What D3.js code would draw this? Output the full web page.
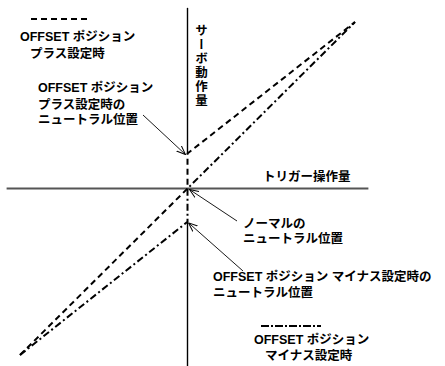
<!DOCTYPE html>
<html><head><meta charset="utf-8">
<script src="https://cdn.jsdelivr.net/npm/d3@7"></script>
<style>html,body{margin:0;padding:0;background:#fff;}svg{display:block;}</style>
</head><body>
<div id="chart"></div>
<script>
// ---- data (normalized trigger input -> servo output) ----
const plusSeries  = [[-1,-1],[0,0],[0,0.21],[1,1]];   // OFFSET ポジション プラス設定時
const minusSeries = [[-1,-1],[0,-0.2],[0,0],[1,1]];   // OFFSET ポジション マイナス設定時
const xAxisExtent = [-1.08, 1.08];
const yAxisUpper  = [0.21, 1.085];
const yAxisLower  = [-1.12, -0.2];
const xAxisLabel = "トリガー操作量";
const yAxisLabel = "サーボ動作量";
const plusLegend  = ["OFFSET ポジション", "プラス設定時"];
const minusLegend = ["OFFSET ポジション", "マイナス設定時"];
const plusNeutralNote  = ["OFFSET ポジション", "プラス設定時の", "ニュートラル位置"];
const normalNeutralNote = ["ノーマルの", "ニュートラル位置"];
const minusNeutralNote = ["OFFSET ポジション マイナス設定時の", "ニュートラル位置"];

const W = 445, H = 366;
const svg = d3.select("#chart").append("svg").attr("width", W).attr("height", H);
const FONT = "'Liberation Sans', 'Noto Sans CJK JP', sans-serif";

const x = d3.scaleLinear().domain([-1, 1]).range([20, 355]);
const y = d3.scaleLinear().domain([-1, 1]).range([355, 22]);

// arrow marker
svg.append("defs").append("marker")
  .attr("id", "arr").attr("viewBox", "0 0 10 10").attr("refX", 10).attr("refY", 5)
  .attr("markerWidth", 9).attr("markerHeight", 9).attr("markerUnits", "userSpaceOnUse")
  .attr("orient", "auto")
  .append("path").attr("d", "M0,1 L10,5 L0,9").attr("fill", "none")
  .attr("stroke", "#000").attr("stroke-width", 1.1);

// axes
svg.append("line").attr("x1", x(xAxisExtent[0])).attr("x2", x(xAxisExtent[1]))
  .attr("y1", y(0)).attr("y2", y(0)).attr("stroke", "#555").attr("stroke-width", 2);
[yAxisUpper, yAxisLower].forEach(e => {
  svg.append("line").attr("x1", x(0)).attr("x2", x(0))
    .attr("y1", y(e[0])).attr("y2", y(e[1])).attr("stroke", "#000").attr("stroke-width", 1.4);
});

const line = d3.line().x(d => x(d[0])).y(d => y(d[1]));
svg.append("path").attr("d", line(plusSeries)).attr("fill", "none")
  .attr("stroke", "#000").attr("stroke-width", 2).attr("stroke-dasharray", "6,4");
svg.append("path").attr("d", line(minusSeries)).attr("fill", "none")
  .attr("stroke", "#000").attr("stroke-width", 2).attr("stroke-dasharray", "7,3,2,3");

// legend samples
svg.append("line").attr("x1", 31).attr("x2", 90).attr("y1", 19).attr("y2", 19)
  .attr("stroke", "#000").attr("stroke-width", 2).attr("stroke-dasharray", "6,4");
svg.append("line").attr("x1", 261).attr("x2", 321).attr("y1", 326).attr("y2", 326)
  .attr("stroke", "#000").attr("stroke-width", 2).attr("stroke-dasharray", "8,2,2,2");

function textBlock(lines, pts) {
  lines.forEach((t, i) => {
    svg.append("text").attr("x", pts[i][0]).attr("y", pts[i][1])
      .attr("dominant-baseline", "central")
      .attr("font-family", FONT).attr("font-size", 12.5).attr("font-weight", 700)
      .attr("fill", "#000").text(t);
  });
}
textBlock(plusLegend, [[20, 37], [30, 54]]);
textBlock(plusNeutralNote, [[38, 88], [38, 105], [38, 120]]);
textBlock([xAxisLabel], [[263, 177]]);
textBlock(normalNeutralNote, [[243, 224], [243, 239]]);
textBlock(minusNeutralNote, [[213, 277], [213, 293]]);
textBlock(minusLegend, [[254, 340], [265, 356]]);

// vertical y-axis label
svg.append("text").attr("x", 200).attr("y", 24)
  .style("writing-mode", "vertical-rl")
  .attr("font-family", FONT).attr("font-size", 12.5).attr("font-weight", 700)
  .attr("letter-spacing", 1.5).attr("fill", "#000").text(yAxisLabel);

// leader arrows
function leader(x1, y1, px, py) {
  svg.append("line").attr("x1", x1).attr("y1", y1).attr("x2", px).attr("y2", py)
    .attr("stroke", "#000").attr("stroke-width", 0.9).attr("marker-end", "url(#arr)");
}
leader(143, 115, x(0) - 2, y(plusSeries[2][1]) + 1);
leader(237, 221, x(0) + 2, y(0) + 1);
leader(243, 271, x(0) + 1, y(minusSeries[1][1]) + 1);
</script>
</body></html>
